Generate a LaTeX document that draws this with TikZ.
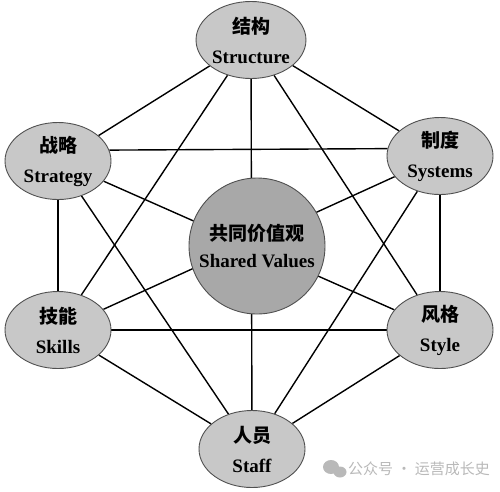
\documentclass[tikz,border=0pt]{standalone}
\usepackage{fontspec}
\setmainfont{Liberation Serif}
\newfontfamily\cjk{Noto Sans CJK SC}
\usetikzlibrary{shapes.geometric,backgrounds}

\definecolor{outerfill}{RGB}{200,200,200}
\definecolor{corefill}{RGB}{168,168,168}
\definecolor{rimgray}{RGB}{80,80,80}
\definecolor{wmgray}{RGB}{185,185,185}

\newcommand{\zh}[1]{{\cjk\fontsize{19}{19}\selectfont #1}}

\tikzset{
  element/.style={ellipse, draw=rimgray, line width=0.9pt, fill=outerfill, inner sep=0pt,
    minimum width=106pt, minimum height=77pt, align=center,
    font=\fontsize{19}{30}\selectfont\bfseries},
  core/.style={circle, draw=rimgray, line width=0.9pt, fill=corefill, inner sep=0pt,
    minimum size=136pt, align=center, font=\fontsize{19}{27}\selectfont\bfseries},
  link/.style={line width=1.4pt, black},
  wmtext/.style={text=wmgray, font=\cjk\fontsize{15}{15}\selectfont, inner sep=0pt}
}

\begin{document}
\begin{tikzpicture}[x=1pt,y=-1pt]
            \useasboundingbox (0,0) rectangle (500,491);
            \node[element] (structure) at (251,40) {\zh{结构}\\Structure};
            \node[element] (strategy) at (58,161) {\zh{战略}\\Strategy};
            \node[element] (systems) at (440,156) {\zh{制度}\\Systems};
            \node[element] (skills) at (58,330) {\zh{技能}\\Skills};
            \node[element] (style) at (440,330) {\zh{风格}\\Style};
            \node[element] (staff) at (252,449) {\zh{人员}\\Staff};
            \node[core] (shared) at (257,246) {\zh{共同价值观}\\Shared Values};
            % every pair of the six elements is linked
            \begin{scope}[on background layer]
                \foreach \a/\b in {structure/systems, systems/style, style/staff, staff/skills,
                                   skills/strategy, strategy/structure,
                                   structure/skills, structure/style,
                                   strategy/staff, systems/staff, skills/style,
                                   structure/staff, strategy/style, systems/skills}
                    \draw[link] (\a) -- (\b);
                \draw[link] (strategy.12) -- (systems.172);
            \end{scope}
            % watermark
            \fill[wmgray] (331,467) ellipse (8pt and 7pt);
            \fill[wmgray] (340,472) ellipse (6.5pt and 5.5pt);
            \node[wmtext, anchor=west] (wechat) at (348,469) {公众号 · 运营成长史};
        \end{tikzpicture}
\end{document}
